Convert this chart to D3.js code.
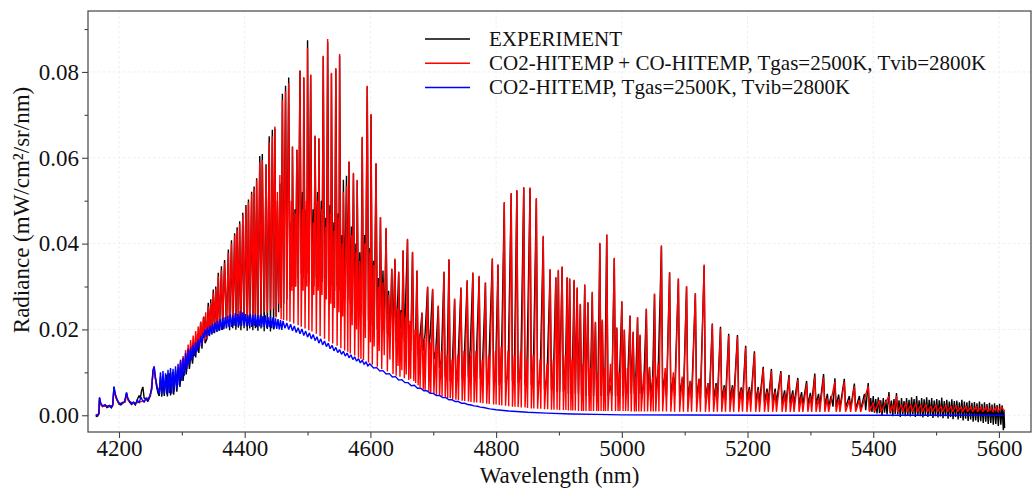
<!DOCTYPE html>
<html><head><meta charset="utf-8">
<script src="https://cdn.jsdelivr.net/npm/d3@7"></script>
<style>body{margin:0;background:#fff}svg{display:block}text{font-family:"Liberation Serif","Times New Roman",serif}</style>
</head><body><svg id="chart" width="1034" height="491"></svg>
<script>
const xTicks=[4200,4400,4600,4800,5000,5200,5400,5600];
const xMinorTicks=[4300,4500,4700,4900,5100,5300,5500];
const yTicks=[0,0.02,0.04,0.06,0.08];
const yMinorTicks=[0.01,0.03,0.05,0.07,0.09];
const seriesNames=["EXPERIMENT","CO2-HITEMP + CO-HITEMP, Tgas=2500K, Tvib=2800K","CO2-HITEMP, Tgas=2500K, Tvib=2800K"];
const seriesColors=["#000000","#ff0000","#0000ff"];

const experiment=[[4163,-.0003],[4166,-.0002],[4168,.0004],[4169,.0040],[4171,.0026],[4174,.0020],[4178,.0023],[4181,.0018],[4185,.0021],[4188,.0017],[4190,.0023],[4192,.0066],[4194,.0048],[4197,.0035],[4200,.0026],[4203,.0024],[4206,.0028],[4209,.0031],[4212,.0052],[4214,.0038],[4217,.0030],[4220,.0025],[4223,.0029],[4226,.0024],[4229,.0036],[4232,.0046],[4234,.0040],[4236,.0058],[4238,.0066],[4240,.0040],[4243,.0038],[4246,.0032],[4249,.0043],[4252,.0060],[4254,.0100],[4256,.0110],[4258,.0085],[4260,.0065],[4262,.0052],[4264,.0045],[4266,.0090],[4268,.0043],[4270,.0088],[4272,.0045],[4275,.0095],[4277,.0044],[4280,.0098],[4282,.0046],[4285,.0100],[4287,.0048],[4290,.0105],[4292,.0055],[4295,.0112],[4297,.0066],[4300,.0120],[4302,.0080],[4305,.0130],[4307,.0095],[4310,.0140],[4312,.0108],[4315,.0150],[4317,.0120],[4320,.0168],[4322,.0135],[4325,.0190],[4327,.0145],[4330,.0218],[4332,.0155],[4335,.0230],[4337,.0168],
[4340,.0178],[4342,.0262],[4344,.0184],[4346,.0270],[4348,.0188],[4350,.0293],[4352,.0191],[4354,.0300],[4356,.0194],[4358,.0332],[4360,.0197],[4363,.0347],[4365,.0199],[4368,.0362],[4371,.0202],[4374,.0386],[4376,.0198],[4379,.0408],[4381,.0203],[4384,.0424],[4386,.0199],[4388,.0438],[4390,.0204],[4392,.0452],[4394,.0198],[4397,.0472],[4399,.0203],[4402,.0490],[4404,.0197],[4406,.0503],[4408,.0202],[4411,.0521],[4413,.0198],[4415,.0533],[4417,.0203],[4419,.0552],[4421,.0197],[4424,.0604],[4426,.0202],[4428,.0609],[4431,.0196],[4434,.0585],[4436,.0201],[4439,.0650],[4441,.0195],[4444,.0665],[4446,.0200],[4448,.0668],[4450,.0230],[4452,.0500],[4454,.0240],[4456,.0540],[4458,.0250],[4460,.0749],[4462,.0260],[4465,.0768],[4467,.0270],
[4470,.0787],[4472,.0290],[4474,.0450],[4475,.0300],[4476,.0625],[4478,.0310],[4480,.0480],[4481,.0300],[4483,.0618],[4485,.0320],[4488,.0802],[4490,.0330],[4492,.0520],[4493,.0320],[4494,.0786],[4496,.0340],[4498,.0480],[4499,.0330],[4500,.0874],[4502,.0310],[4505,.0792],[4507,.0320],[4509,.0480],[4510,.0300],[4512,.0650],[4514,.0320],[4516,.0520],[4517,.0300],[4518,.0644],[4520,.0330],[4522,.0500],[4523,.0310],[4525,.0836],[4527,.0320],[4529,.0460],[4530,.0300],[4532,.0870],[4534,.0310],[4536,.0490],[4537,.0300],[4538,.0796],[4540,.0300],[4542,.0450],[4543,.0290],[4545,.0806],[4547,.0300],[4549,.0470],[4550,.0290],[4551,.0838],[4553,.0280],[4555,.0420],[4556,.0280],[4557,.0549],[4559,.0270],[4562,.0558],[4564,.0270],[4566,.0590],[4568,.0260],[4570,.0440],[4571,.0260],[4573,.0563],[4575,.0250],[4577,.0400],[4578,.0250],[4579,.0547],[4581,.0240],[4583,.0380],[4585,.0240],[4587,.0647],[4589,.0230],[4591,.0420],[4592,.0230],[4595,.0766],[4597,.0220],[4599,.0390],[4600,.0220],[4601,.0700],[4603,.0210],[4605,.0360],[4606,.0210],[4609,.0586],[4611,.0200],[4613,.0320],[4614,.0200],[4616,.0460],[4618,.0200],[4620,.0337],[4622,.0200],[4625,.0435],[4627,.0190],[4629,.0290],[4631,.0180],[4634,.0340],[4636,.0180],[4639,.0363],[4641,.0170],[4645,.0333],[4647,.0200],[4649,.0245],[4650,.0180],[4652,.0383],[4654,.0170],[4659,.0409],[4661,.0160],[4663,.0210],[4664,.0150],[4667,.0379],[4669,.0150],[4672,.0190],[4674,.0336],[4676,.0140],[4679,.0185],[4682,.0238],[4684,.0150],[4687,.0190],[4691,.0298],[4693,.0150],[4695,.0185],[4699,.0293],[4701,.0130],[4704,.0150],[4708,.0254],[4710,.0110],[4713,.0130],[4717,.0333],[4719,.0090],[4722,.0110],[4725,.0362],[4727,.0080],[4730,.0100],[4734,.0270],[4736,.0080],[4739,.0110],[4744,.0296],[4746,.0085],[4749,.0120],[4754,.0313],[4756,.0090],[4759,.0160],[4763,.0331],[4765,.0090],[4768,.0110],[4773,.0323],[4775,.0085],[4778,.0100],[4783,.0308],[4785,.0080],[4788,.0100],[4794,.0364],[4796,.0075],[4799,.0090],[4803,.0350],[4805,.0070],[4808,.0090],[4813,.0495],[4815,.0075],[4819,.0095],[4824,.0516],[4826,.0080],[4829,.0098],[4833,.0523],[4835,.0075],[4839,.0090],[4844,.0530],[4846,.0070],[4849,.0105],[4854,.0529],[4856,.0070],[4859,.0090],[4864,.0504],[4866,.0065],[4870,.0085],[4875,.0416],[4877,.0060],[4881,.0090],[4886,.0339],[4888,.0060],[4891,.0080],[4895,.0320],[4897,.0055],[4899,.0337],[4901,.0055],[4905,.0345],[4907,.0055],[4910,.0075],[4913,.0320],[4915,.0050],[4917,.0317],[4919,.0050],[4921,.0070],[4924,.0314],[4926,.0050],[4929,.0296],[4931,.0050],[4934,.0258],[4936,.0045],[4938,.0070],[4941,.0303],[4943,.0045],[4946,.0262],[4948,.0045],[4950,.0065],[4953,.0286],[4955,.0045],[4958,.0216],[4960,.0045],[4962,.0065],[4965,.0400],[4967,.0045],[4969,.0221],[4971,.0045],[4973,.0065],[4976,.0420],[4978,.0045],[4982,.0070],[4984,.0045],[4988,.0365],[4990,.0045],[4992,.0203],[4994,.0045],[4996,.0070],[5000,.0264],[5002,.0045],[5004,.0198],[5006,.0050],[5009,.0070],[5013,.0231],[5015,.0050],[5018,.0193],[5020,.0050],[5022,.0075],[5025,.0227],[5027,.0050],[5029,.0186],[5031,.0050],[5035,.0075],[5039,.0247],[5041,.0050],[5044,.0111],[5046,.0050],[5049,.0080],[5052,.0282],[5054,.0050],[5058,.0110],[5063,.0394],[5065,.0050],[5069,.0100],[5071,.0045],[5076,.0332],[5078,.0045],[5082,.0090],[5084,.0045],[5090,.0317],[5092,.0045],[5096,.0085],[5098,.0045],[5103,.0299],[5105,.0040],[5109,.0080],[5111,.0040],[5117,.0283],[5119,.0040],[5123,.0085],[5125,.0040],[5131,.0349],[5133,.0040],[5137,.0075],[5139,.0035],[5144,.0214],[5146,.0035],[5150,.0075],[5152,.0035],[5157,.0206],[5159,.0035],[5163,.0070],[5165,.0035],[5170,.0190],[5172,.0035],[5176,.0070],[5178,.0035],[5184,.0187],[5186,.0035],[5190,.0065],[5192,.0035],[5197,.0162],[5199,.0035],[5203,.0066],[5205,.0030],[5211,.0149],[5213,.0030],[5217,.0066],[5219,.0030],[5225,.0113],[5227,.0030],[5231,.0062],[5233,.0030],[5238,.0108],[5240,.0030],[5244,.0062],[5246,.0028],[5253,.0103],[5255,.0028],[5259,.0058],[5261,.0028],[5266,.0094],[5268,.0028],[5272,.0058],[5274,.0026],[5280,.0087],[5282,.0026],[5286,.0054],[5288,.0025],[5294,.0080],[5296,.0025],[5300,.0052],[5302,.0025],[5307,.0097],[5309,.0025],[5313,.0050],[5315,.0022],[5321,.0096],[5323,.0022],[5327,.0050],[5329,.0020],[5333,.0045],[5336,.0020],[5339,.0086],[5341,.0020],[5345,.0048],[5347,.0018],[5354,.0085],[5356,.0018],[5362,.0045],[5364,.0015],[5370,.0074],[5372,.0015],[5378,.0045],[5380,.0012],[5386,.0050],[5388,.0012],[5392,.0075],[5394,.0010],
[5396,.0040],[5398,.0008],[5400,.0045],[5402,.0006],[5404,.0038],[5406,.0004],[5408,.0042],[5410,.0005],[5412,.0035],[5414,.0000],[5416,.0040],[5418,.0006],[5420,.0036],[5422,.0002],[5425,.0054],[5427,.0004],[5429,.0034],[5431,-.0002],[5433,.0038],[5435,.0003],[5437,.0052],[5439,.0002],[5441,.0035],[5443,-.0004],[5445,.0040],[5447,.0002],[5449,.0033],[5451,-.0002],[5453,.0040],[5455,.0001],[5457,.0036],[5459,-.0003],[5461,.0042],[5463,.0002],[5465,.0038],[5467,-.0004],[5469,.0045],[5471,.0000],[5473,.0035],[5475,-.0002],[5477,.0040],[5479,-.0005],[5481,.0037],[5483,.0000],[5485,.0042],[5487,-.0004],[5489,.0036],[5491,-.0001],[5493,.0040],[5495,-.0006],[5497,.0034],[5499,-.0002],[5501,.0038],[5503,-.0005],[5505,.0035],[5507,-.0003],[5509,.0041],[5511,-.0007],[5513,.0033],[5515,-.0002],[5517,.0036],[5519,-.0008],[5521,.0032],[5523,-.0004],[5525,.0037],[5527,-.0009],[5529,.0033],[5531,-.0004],[5533,.0034],[5535,-.0010],[5537,.0030],[5539,-.0006],[5541,.0036],[5543,-.0012],[5545,.0032],[5547,-.0008],[5549,.0030],[5551,-.0013],[5553,.0034],[5555,-.0010],[5557,.0029],[5559,-.0015],[5561,.0031],[5563,-.0012],[5565,.0028],[5567,-.0016],[5569,.0032],[5571,-.0014],[5573,.0027],[5575,-.0018],[5577,.0030],[5579,-.0015],[5581,.0026],[5583,-.0020],[5585,.0029],[5587,-.0018],[5589,.0025],[5591,-.0022],[5593,.0028],[5595,-.0020],[5597,.0024],[5599,-.0025],[5601,.0027],[5603,-.0022],[5605,.0023],[5607,-.0035],[5608,.0010],[5609,-.0030]];

const co2co=[[4163,0],[4168,.0003],[4169,.0036],[4172,.0022],[4180,.0021],[4190,.0022],[4192,.0060],[4195,.0040],[4200,.0027],[4210,.0031],[4212,.0048],[4215,.0034],[4222,.0028],[4232,.0030],[4240,.0034],[4250,.0044],[4255,.0108],[4258,.0085],[4262,.0060],[4270,.0070],[4280,.0075],[4290,.0085],[4294,.0098],
[4296,.0095],[4298,.0130],[4300,.0098],[4302,.0138],[4304,.0105],[4306,.0152],[4308,.0112],[4310,.0165],[4312,.0122],[4314,.0175],[4316,.0132],[4318,.0186],[4320,.0140],[4322,.0196],[4324,.0150],[4326,.0207],[4328,.0158],[4330,.0218],[4332,.0165],[4334,.0228],[4336,.0172],[4338,.0240],[4340,.0180],[4342,.0254],[4344,.0190],[4346,.0262],[4348,.0195],[4350,.0285],[4352,.0200],[4354,.0295],[4356,.0205],[4358,.0324],[4360,.0210],[4363,.0339],[4365,.0212],[4368,.0355],[4371,.0215],[4374,.0378],[4376,.0220],[4379,.0400],[4381,.0225],[4384,.0418],[4386,.0222],[4388,.0432],[4390,.0228],[4392,.0446],[4394,.0225],[4397,.0466],[4399,.0230],[4402,.0485],[4404,.0228],[4406,.0497],[4408,.0232],[4411,.0516],[4413,.0230],[4415,.0528],[4417,.0235],[4419,.0549],[4421,.0232],[4424,.0590],[4426,.0236],[4428,.0595],[4431,.0240],[4434,.0580],[4436,.0238],[4439,.0636],[4441,.0245],[4444,.0650],[4446,.0248],[4448,.0673],
[4450,.0228],[4452,.0520],[4454,.0260],[4456,.0560],[4458,.0224],[4460,.0735],[4462,.0222],[4465,.0755],[4467,.0220],[4470,.0774],[4472,.0218],[4474,.0500],[4475,.0290],[4476,.0627],[4478,.0214],[4480,.0470],[4481,.0300],[4483,.0619],[4485,.0210],[4488,.0804],[4490,.0206],[4492,.0480],[4493,.0290],[4494,.0788],[4496,.0202],[4498,.0500],[4499,.0300],[4500,.0856],[4502,.0198],[4505,.0794],[4507,.0195],[4509,.0450],[4510,.0280],[4512,.0652],[4514,.0190],[4516,.0500],[4517,.0290],[4518,.0646],[4520,.0184],[4522,.0480],[4523,.0280],[4525,.0838],[4527,.0178],[4529,.0440],[4530,.0270],[4532,.0877],[4534,.0172],[4536,.0470],[4537,.0260],[4538,.0798],[4540,.0167],[4542,.0430],[4543,.0250],[4545,.0809],[4547,.0162],[4549,.0460],[4550,.0240],[4551,.0842],[4553,.0156],[4555,.0400],[4556,.0230],[4557,.0520],[4559,.0151],[4562,.0535],[4564,.0148],[4566,.0592],[4568,.0144],[4570,.0420],[4571,.0210],[4573,.0565],[4575,.0139],[4577,.0380],[4578,.0200],[4579,.0549],[4581,.0134],[4583,.0360],[4585,.0131],[4587,.0649],[4589,.0128],[4591,.0400],[4592,.0180],[4595,.0768],[4597,.0123],[4599,.0380],[4600,.0170],[4601,.0702],[4603,.0118],[4605,.0350],[4606,.0160],[4609,.0588],[4611,.0113],[4613,.0300],[4614,.0150],[4616,.0462],[4618,.0107],[4620,.0310],[4622,.0140],[4625,.0437],[4627,.0102],[4629,.0280],[4631,.0130],[4634,.0342],[4636,.0096],[4639,.0365],[4641,.0092],[4643,.0250],[4644,.0115],[4645,.0335],[4647,.0090],[4649,.0240],[4650,.0105],[4652,.0385],[4654,.0086],[4656,.0230],[4657,.0095],[4659,.0411],[4661,.0082],[4663,.0220],[4664,.0085],[4667,.0381],[4669,.0080],[4671,.0200],[4672,.0075],[4674,.0338],[4676,.0070],[4678,.0190],[4679,.0065],[4682,.0240],[4684,.0060],[4686,.0180],[4687,.0058],[4691,.0300],[4693,.0055],[4695,.0170],[4696,.0052],[4699,.0295],[4701,.0050],[4704,.0160],[4705,.0048],[4708,.0256],[4710,.0045],[4713,.0150],[4714,.0044],[4717,.0335],[4719,.0042],[4722,.0140],[4723,.0040],[4725,.0364],[4727,.0040],[4730,.0130],[4731,.0038],[4734,.0272],[4736,.0036],[4739,.0140],[4740,.0035],[4744,.0298],[4746,.0034],[4749,.0150],[4750,.0033],[4754,.0315],[4756,.0032],[4759,.0140],[4760,.0031],[4763,.0333],[4765,.0030],[4768,.0150],[4769,.0030],[4773,.0325],[4775,.0029],[4778,.0130],[4779,.0028],[4783,.0310],[4785,.0027],[4788,.0140],[4789,.0026],[4794,.0366],[4796,.0025],[4799,.0150],[4800,.0025],[4803,.0352],[4805,.0024],[4808,.0160],[4809,.0023],[4813,.0497],[4815,.0022],[4819,.0150],[4820,.0021],[4824,.0518],[4826,.0020],[4829,.0140],[4830,.0020],[4833,.0525],[4835,.0019],[4839,.0150],[4840,.0018],[4844,.0532],[4846,.0018],[4849,.0130],[4850,.0017],[4854,.0531],[4856,.0016],[4859,.0140],[4860,.0016],[4864,.0506],[4866,.0015],[4870,.0130],[4871,.0015],[4875,.0418],[4877,.0014],[4881,.0120],[4882,.0014],[4886,.0341],[4888,.0013],[4891,.0130],[4892,.0013],[4895,.0322],[4897,.0013],[4899,.0339],[4901,.0012],[4905,.0347],[4907,.0012],[4910,.0140],[4911,.0012],[4913,.0322],[4915,.0011],[4917,.0319],[4919,.0011],[4921,.0130],[4922,.0011],[4924,.0316],[4926,.0011],[4929,.0298],[4931,.0010],[4934,.0260],[4936,.0010],[4938,.0120],[4939,.0010],[4941,.0305],[4943,.0010],[4946,.0264],[4948,.0010],[4950,.0110],[4951,.0010],[4953,.0288],[4955,.0010],[4958,.0218],[4960,.0010],[4962,.0100],[4963,.0010],[4965,.0402],[4967,.0010],[4969,.0223],[4971,.0010],[4973,.0110],[4974,.0010],[4976,.0422],[4978,.0010],[4982,.0120],[4984,.0010],[4988,.0367],[4990,.0010],[4992,.0205],[4994,.0010],[4996,.0100],[4997,.0010],[5000,.0266],[5002,.0010],[5004,.0200],[5006,.0010],[5009,.0110],[5010,.0010],[5013,.0233],[5015,.0009],[5018,.0195],[5020,.0009],[5022,.0090],[5023,.0009],[5025,.0229],[5027,.0009],[5029,.0188],[5031,.0009],[5035,.0100],[5036,.0009],[5039,.0249],[5041,.0009],[5044,.0113],[5046,.0009],[5049,.0090],[5050,.0009],[5052,.0284],[5054,.0009],[5058,.0120],[5059,.0009],[5063,.0396],[5065,.0009],[5069,.0110],[5071,.0009],[5076,.0334],[5078,.0008],[5082,.0100],[5084,.0008],[5090,.0319],[5092,.0008],[5096,.0090],[5098,.0008],[5103,.0301],[5105,.0008],[5109,.0080],[5111,.0008],[5117,.0285],[5119,.0008],[5123,.0085],[5125,.0008],[5131,.0351],[5133,.0008],[5137,.0075],[5139,.0008],[5144,.0212],[5146,.0008],[5150,.0070],[5152,.0008],[5157,.0202],[5159,.0008],[5163,.0065],[5165,.0008],[5170,.0186],[5172,.0008],[5176,.0065],[5178,.0008],[5184,.0183],[5186,.0008],[5190,.0060],[5192,.0008],[5197,.0158],[5199,.0008],[5203,.0060],[5205,.0008],[5211,.0145],[5213,.0008],[5217,.0060],[5219,.0008],[5225,.0109],[5227,.0008],[5231,.0055],[5233,.0008],[5238,.0103],[5240,.0008],[5244,.0055],[5246,.0008],[5253,.0099],[5255,.0008],[5259,.0050],[5261,.0008],[5266,.0089],[5268,.0008],[5272,.0050],[5274,.0008],[5280,.0082],[5282,.0008],[5286,.0045],[5288,.0008],[5294,.0074],[5296,.0008],[5300,.0045],[5302,.0008],[5307,.0090],[5309,.0008],[5313,.0040],[5315,.0008],[5321,.0088],[5323,.0008],[5327,.0040],[5329,.0008],[5339,.0078],[5341,.0008],[5345,.0038],[5347,.0008],[5354,.0078],[5356,.0008],[5362,.0035],[5364,.0008],[5370,.0068],[5372,.0008],[5378,.0035],[5380,.0008],[5392,.0068],[5394,.0008],[5400,.0030],[5402,.0008],[5410,.0035],[5412,.0008],[5425,.0045],[5427,.0008],[5431,.0025],[5433,.0008],[5437,.0045],[5439,.0008],[5445,.0025],[5447,.0008],[5452,.0030],[5454,.0008],[5460,.0025],[5462,.0008],[5468,.0028],[5470,.0008],[5476,.0024],[5478,.0008],[5484,.0026],[5486,.0008],[5492,.0022],[5494,.0008],[5500,.0025],[5502,.0008],[5508,.0022],[5510,.0008],[5516,.0024],[5518,.0008],[5524,.0022],[5526,.0008],[5532,.0023],[5534,.0008],[5540,.0021],[5542,.0008],[5548,.0022],[5550,.0008],[5556,.0020],[5558,.0008],[5564,.0021],[5566,.0008],[5572,.0020],[5574,.0008],[5580,.0020],[5582,.0008],[5588,.0019],[5590,.0008],[5596,.0020],[5598,.0008],[5604,.0019],[5609,.0010]];

const co2=[[4163,0],[4166,0],[4168,.0005],[4169,.0042],[4171,.0028],[4174,.0022],[4178,.0025],[4181,.0020],[4185,.0023],[4188,.0019],[4190,.0025],[4192,.0067],[4194,.0050],[4197,.0037],[4200,.0029],[4203,.0026],[4206,.0030],[4209,.0032],[4212,.0053],[4214,.0040],[4217,.0032],[4220,.0027],[4223,.0031],[4226,.0025],[4229,.0035],[4232,.0030],[4235,.0042],[4237,.0036],[4240,.0030],[4243,.0041],[4246,.0034],[4249,.0045],[4252,.0062],[4254,.0105],[4256,.0114],[4258,.0090],[4260,.0070],[4262,.0058],
[4264,.0050],[4266,.0100],[4268,.0048],[4270,.0103],[4272,.0050],[4274,.0098],[4276,.0049],[4278,.0106],[4280,.0052],[4282,.0110],[4284,.0050],[4286,.0108],[4288,.0056],[4290,.0114],[4292,.0062],[4294,.0120],[4296,.0070],[4298,.0128],[4300,.0080],[4302,.0134],[4304,.0092],[4306,.0145],[4308,.0108],[4310,.0154],[4312,.0118],[4314,.0158],[4316,.0128],[4318,.0164],[4320,.0138],[4322,.0170],[4324,.0148],[4326,.0177],[4328,.0158],[4330,.0185],[4332,.0165],[4334,.0192],
[4335,.0180],[4337,.0200],[4339,.0182],[4341,.0205],[4343,.0186],[4345,.0209],[4347,.0189],[4349,.0213],[4351,.0192],[4353,.0216],[4355,.0195],[4357,.0220],[4359,.0197],[4361,.0224],[4363,.0199],[4365,.0227],[4367,.0201],[4369,.0229],[4371,.0204],[4373,.0232],[4375,.0205],[4377,.0235],[4379,.0206],[4381,.0233],[4383,.0208],[4385,.0238],[4387,.0207],[4389,.0236],[4391,.0209],[4393,.0243],[4395,.0208],[4397,.0240],[4399,.0210],[4401,.0236],[4403,.0207],[4405,.0234],[4407,.0209],[4409,.0237],[4411,.0206],[4413,.0233],[4415,.0208],[4417,.0235],[4419,.0205],[4421,.0232],[4423,.0207],[4425,.0234],[4427,.0205],[4429,.0231],[4431,.0206],[4433,.0233],[4435,.0204],[4437,.0229],[4439,.0205],[4441,.0231],[4443,.0203],[4445,.0228],[4447,.0202],[4449,.0226],[4451,.0201],[4453,.0224],[4455,.0200],[4457,.0222],[4459,.0199],[4461,.0220],
[4464,.0203],[4467,.0215],[4470,.0200],[4473,.0212],[4476,.0197],[4479,.0208],[4482,.0193],[4485,.0204],[4488,.0190],[4491,.0201],[4494,.0186],[4497,.0196],[4500,.0182],[4503,.0192],[4506,.0178],[4509,.0188],[4512,.0174],[4515,.0183],[4518,.0168],[4521,.0178],[4524,.0164],[4527,.0173],[4530,.0160],[4533,.0168],[4536,.0155],[4539,.0163],[4542,.0150],[4545,.0158],[4548,.0146],[4551,.0153],[4554,.0142],[4557,.0149],[4560,.0138],[4563,.0145],[4566,.0134],[4569,.0141],[4572,.0130],[4575,.0136],[4578,.0126],[4581,.0132],[4584,.0122],[4587,.0128],[4590,.0119],[4593,.0124],[4596,.0115],[4599,.0120],
[4605,.0110],[4610,.0111],[4615,.0103],[4620,.0104],[4625,.0096],[4630,.0097],[4635,.0089],[4640,.0090],[4645,.0082],[4650,.0083],[4655,.0076],[4660,.0076],[4665,.0069],[4670,.0070],[4675,.0063],[4680,.0063],[4685,.0057],[4690,.0057],[4695,.0051],[4700,.0051],[4705,.0046],[4710,.0046],[4715,.0041],[4720,.0041],[4725,.0036],[4730,.0036],[4735,.0032],[4740,.0032],[4745,.0028],[4750,.0028],[4755,.0025],[4760,.0024],[4765,.0022],[4770,.0021],[4775,.0019],[4780,.0018],[4790,.0015],[4800,.0013],[4820,.0010],[4850,.0007],[4880,.0005],[4920,.0003],[4960,.0002],[5000,.0001],[5100,.00005],[5300,0],[5609,0]];

const plot={left:88,right:1031,top:11,bottom:432};
const svg=d3.select("#chart");
const x=d3.scaleLinear().domain([4150.7,5651]).range([plot.left,plot.right]);
const y=d3.scaleLinear().domain([-0.0039,0.0942]).range([plot.bottom,plot.top]);

svg.append("defs").append("clipPath").attr("id","clip").append("rect")
  .attr("x",plot.left).attr("y",plot.top).attr("width",plot.right-plot.left).attr("height",plot.bottom-plot.top);

const grid=svg.append("g").attr("stroke","#e8e8e8").attr("stroke-width",0.8).attr("stroke-dasharray","2.5,2.5");
grid.selectAll(".gx").data(xTicks).join("line").attr("x1",d=>x(d)).attr("x2",d=>x(d)).attr("y1",plot.top).attr("y2",plot.bottom);
grid.selectAll(".gy").data(yTicks).join("line").attr("y1",d=>y(d)).attr("y2",d=>y(d)).attr("x1",plot.left).attr("x2",plot.right);

const line=d3.line().x(d=>x(d[0])).y(d=>y(d[1]));
const lines=svg.append("g").attr("clip-path","url(#clip)");
[experiment,co2co,co2].forEach((s,i)=>{
  lines.append("path").datum(s).attr("d",line).attr("fill","none")
    .attr("stroke",seriesColors[i]).attr("stroke-width",1.4).attr("stroke-linejoin","miter").attr("stroke-miterlimit",2);
});

svg.append("rect").attr("x",plot.left).attr("y",plot.top).attr("width",plot.right-plot.left).attr("height",plot.bottom-plot.top)
  .attr("fill","none").attr("stroke","#444").attr("stroke-width",1.2);

const fs=23;
const xAxis=svg.append("g").attr("transform",`translate(0,${plot.bottom})`)
  .call(d3.axisBottom(x).tickValues(xTicks).tickSize(6).tickPadding(2).tickFormat(d3.format("d")));
const xMinor=svg.append("g").attr("transform",`translate(0,${plot.bottom})`)
  .call(d3.axisBottom(x).tickValues(xMinorTicks).tickSize(3.5).tickFormat(""));
const yAxis=svg.append("g").attr("transform",`translate(${plot.left},0)`)
  .call(d3.axisLeft(y).tickValues(yTicks).tickSize(6).tickPadding(3).tickFormat(d3.format(".2f")));
const yMinor=svg.append("g").attr("transform",`translate(${plot.left},0)`)
  .call(d3.axisLeft(y).tickValues(yMinorTicks).tickSize(3.5).tickFormat(""));
[xAxis,xMinor,yAxis,yMinor].forEach(g=>{
  g.select(".domain").remove();
  g.selectAll(".tick line").attr("stroke","#444").attr("stroke-width",1.1);
  g.selectAll(".tick text").attr("fill","#111").style("font-size",fs+"px").style("font-family",'"Liberation Serif",serif');
});

svg.append("text").attr("x",(plot.left+plot.right)/2).attr("y",483).attr("text-anchor","middle")
  .style("font-size",fs+"px").attr("fill","#111").text("Wavelength (nm)");
svg.append("text").attr("transform","translate(29,210) rotate(-90)").attr("text-anchor","middle")
  .style("font-size",fs+"px").attr("fill","#111").text("Radiance (mW/cm²/sr/nm)");

const lg=svg.append("g");
seriesNames.forEach((n,i)=>{
  const ly=39+i*24.2;
  lg.append("line").attr("x1",425).attr("x2",470).attr("y1",ly).attr("y2",ly).attr("stroke",seriesColors[i]).attr("stroke-width",1.5);
  lg.append("text").attr("x",489).attr("y",ly+7).style("font-size","21px").attr("fill","#111").text(n);
});
</script></body></html>
